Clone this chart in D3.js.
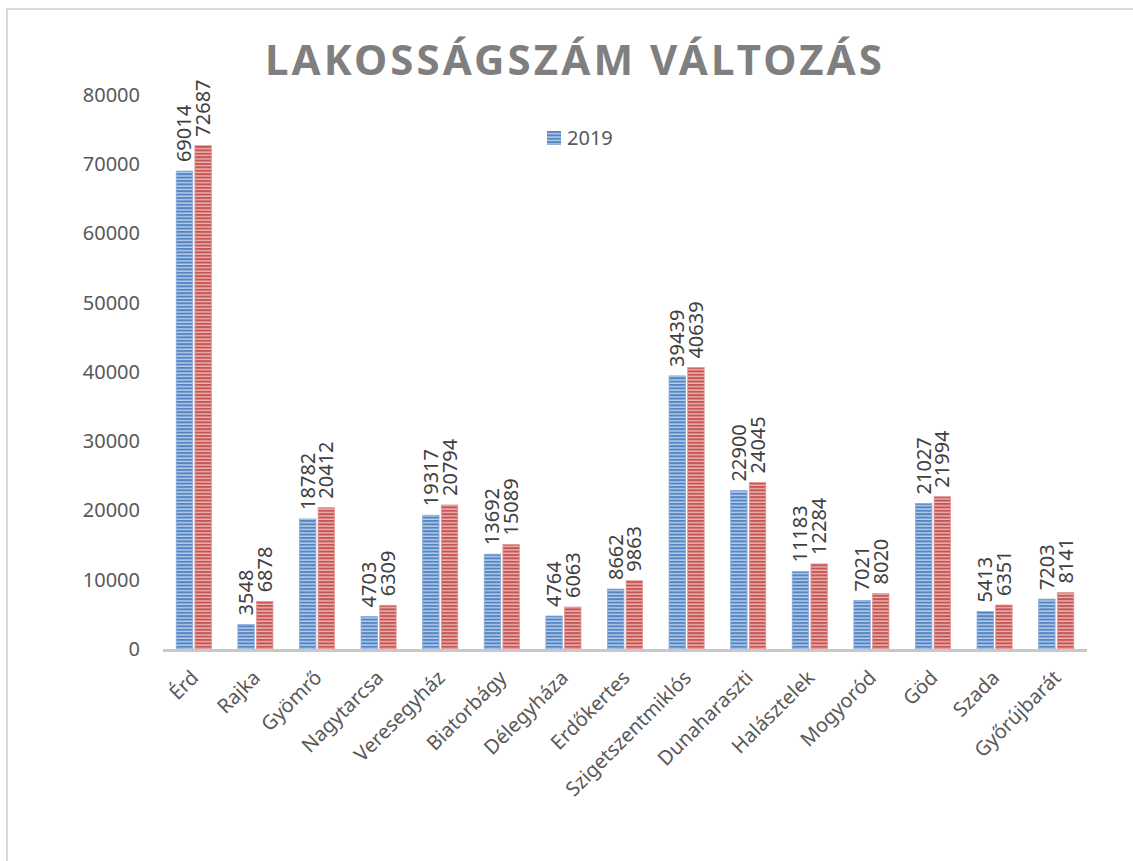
<!DOCTYPE html>
<html>
<head>
<meta charset="utf-8">
<script src="https://cdn.jsdelivr.net/npm/d3@7"></script>
<style>
  body { margin: 0; background: #fff; }
  svg { font-family: "Noto Sans", sans-serif; }
</style>
</head>
<body>
<svg id="drawing_region"></svg>
<script>
const categories = ['Érd', 'Rajka', 'Gyömrő', 'Nagytarcsa', 'Veresegyház', 'Biatorbágy', 'Délegyháza',
  'Erdőkertes', 'Szigetszentmiklós', 'Dunaharaszti', 'Halásztelek', 'Mogyoród', 'Göd', 'Szada', 'Győrújbarát']
const values2019 = [69014, 3548, 18782, 4703, 19317, 13692, 4764, 8662, 39439, 22900, 11183, 7021, 21027, 5413, 7203]
const valuesLater = [72687, 6878, 20412, 6309, 20794, 15089, 6063, 9863, 40639, 24045, 12284, 8020, 21994, 6351, 8141]
const yTicks = [0, 10000, 20000, 30000, 40000, 50000, 60000, 70000, 80000]
const title = 'LAKOSSÁGSZÁM VÁLTOZÁS'
const legendLabel = '2019'

const width = 1133, height = 861
const margin = {top: 95, left: 163, right: 46, bottom: 212}
const innerW = width - margin.left - margin.right
const innerH = height - margin.top - margin.bottom

const svg = d3.select('#drawing_region').attr('width', width).attr('height', height)

// striped fills
const defs = svg.append('defs')
function stripes(id, dark, light){
  const p = defs.append('pattern').attr('id', id)
    .attr('patternUnits', 'userSpaceOnUse').attr('width', 8).attr('height', 3.4)
  p.append('rect').attr('width', 8).attr('height', 3.4).attr('fill', dark)
  p.append('rect').attr('y', 2).attr('width', 8).attr('height', 1.4).attr('fill', light)
}
stripes('blueStripe', '#5385c2', '#b8cfec')
stripes('redStripe', '#c45552', '#ecb6b5')

// chart frame
svg.append('rect').attr('x', 7).attr('y', 9).attr('width', 1140).attr('height', 870)
  .attr('fill', 'none').attr('stroke', '#d9d9d9').attr('stroke-width', 2)

const chart = svg.append('g').attr('transform', `translate(${margin.left},${margin.top})`)

const xscale = d3.scaleBand().domain(categories).range([0, innerW]).paddingInner(0.43).paddingOuter(0.215)
const yscale = d3.scaleLinear().domain([0, 80000]).range([innerH, 0])
const sub = d3.scaleBand().domain([0, 1]).range([0, xscale.bandwidth()]).paddingInner(0.12)

// y axis labels
const yaxis = d3.axisLeft(yscale).tickValues(yTicks).tickSize(0).tickPadding(23).tickFormat(d => d)
chart.append('g').call(yaxis)
  .call(g => g.select('.domain').remove())
  .selectAll('text').attr('font-size', 20).attr('fill', '#595959').attr('font-family', '"Noto Sans", sans-serif')

const series = [
  {values: values2019, fill: 'url(#blueStripe)', edge: '#8aaddb', idx: 0},
  {values: valuesLater, fill: 'url(#redStripe)', edge: '#e09593', idx: 1}
]

series.forEach(s => {
  const g = chart.append('g')
  g.selectAll('rect').data(s.values).enter().append('rect')
    .attr('x', (d, i) => xscale(categories[i]) + sub(s.idx))
    .attr('y', d => yscale(d))
    .attr('width', sub.bandwidth())
    .attr('height', d => innerH - yscale(d))
    .attr('fill', s.fill)
    .attr('stroke', s.edge).attr('stroke-width', 0.8)

  g.selectAll('text').data(s.values).enter().append('text')
    .attr('transform', (d, i) => {
      const x = xscale(categories[i]) + sub(s.idx) + sub.bandwidth() / 2
      return `translate(${x + 7},${yscale(d) - 9}) rotate(-90)`
    })
    .attr('font-size', 20).attr('fill', '#404040')
    .text(d => d)
})

// x axis
const xaxis = d3.axisBottom(xscale).tickSize(0).tickPadding(0)
chart.append('g').attr('transform', `translate(0,${innerH})`).call(xaxis)
  .call(g => g.select('.domain').attr('stroke', '#c8c8c8').attr('stroke-width', 3)
    .attr('d', `M0,1.5H${innerW}`))
  .selectAll('text')
  .attr('font-size', 20).attr('fill', '#595959').attr('font-family', '"Noto Sans", sans-serif')
  .attr('text-anchor', 'end').attr('dy', 0).attr('y', 0)
  .attr('transform', 'translate(6,30) rotate(-45)')

// title
svg.append('text').attr('x', 575).attr('y', 75).attr('text-anchor', 'middle')
  .attr('font-size', 42).attr('font-weight', 'bold').attr('fill', '#7f7f7f')
  .attr('letter-spacing', 3.1).text(title)

// legend (only the first series appears in the original)
const lg = svg.append('g').attr('transform', 'translate(547,131)')
lg.append('rect').attr('width', 14).attr('height', 14).attr('fill', 'url(#blueStripe)')
lg.append('text').attr('x', 20).attr('y', 14).attr('font-size', 20).attr('fill', '#595959').text(legendLabel)
</script>
</body>
</html>
